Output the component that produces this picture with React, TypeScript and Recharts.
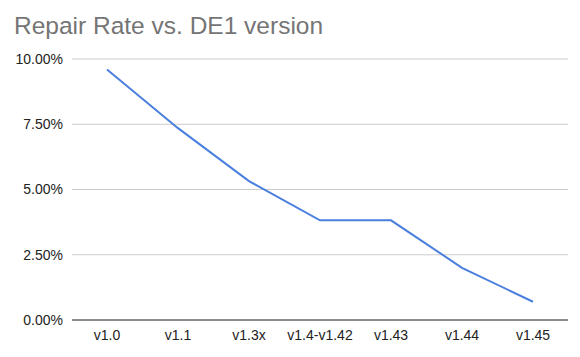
import { CartesianGrid, Line, LineChart, XAxis, YAxis } from "recharts";

const versions = ["v1.0", "v1.1", "v1.3x", "v1.4-v1.42", "v1.43", "v1.44", "v1.45"];
const repairRate = [9.6, 7.35, 5.32, 3.82, 3.82, 2.0, 0.7];
const yTicks = [0, 2.5, 5, 7.5, 10];

const data = versions.map((version, i) => ({ version, rate: repairRate[i] }));

export default function App() {
  return (
    <div
      style={{
        position: "absolute",
        left: 0,
        top: 0,
        width: 580,
        height: 357,
        background: "#fff",
        fontFamily: "Arial, 'Liberation Sans', sans-serif",
      }}
    >
      <div
        style={{
          position: "absolute",
          left: 14,
          top: 14,
          fontSize: 24.5,
          lineHeight: "24px",
          color: "#757575",
          whiteSpace: "nowrap",
        }}
      >
        Repair Rate vs. DE1 version
      </div>
      <LineChart
        data={data}
        height={357}
        margin={{ bottom: 0, left: 0, right: 12, top: 59 }}
        width={580}
      >
        <CartesianGrid stroke="#cccccc" vertical={false} />
        <XAxis
          axisLine={{ stroke: "#333333", strokeWidth: 1 }}
          dataKey="version"
          height={37}
          interval={0}
          padding={{ left: 35, right: 35 }}
          tick={{ fill: "#222222", fontSize: 14 }}
          tickLine={false}
          tickMargin={4}
        />
        <YAxis
          axisLine={false}
          domain={[0, 10]}
          tick={{ fill: "#222222", fontSize: 14 }}
          tickFormatter={(v) => `${Number(v).toFixed(2)}%`}
          tickLine={false}
          tickMargin={3}
          ticks={yTicks}
          width={72}
        />
        <Line
          dataKey="rate"
          dot={false}
          isAnimationActive={false}
          stroke="#4a7fde"
          strokeWidth={2}
          type="linear"
        />
      </LineChart>
    </div>
  );
}
